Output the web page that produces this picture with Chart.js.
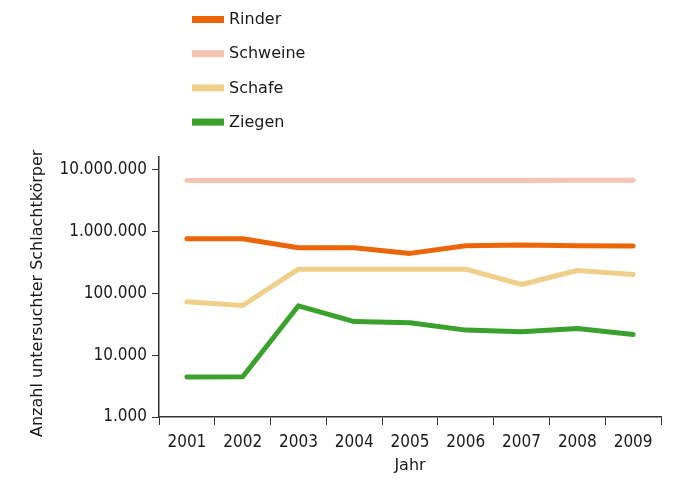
<!DOCTYPE html>
<html>
<head>
<meta charset="utf-8">
<script src="https://cdn.jsdelivr.net/npm/chart.js@4/dist/chart.umd.min.js"></script>
<style>
  html, body { margin: 0; padding: 0; background: #fff; }
  #wrap { width: 683px; height: 479px; }
</style>
</head>
<body>
<div id="wrap"><canvas id="chart" width="683" height="479"></canvas></div>
<script>
// Data
const years = ['2001', '2002', '2003', '2004', '2005', '2006', '2007', '2008', '2009'];
const seriesNames = ['Rinder', 'Schweine', 'Schafe', 'Ziegen'];
const rinder   = [764000, 764000, 546000, 546000, 442000, 587000, 602000, 587000, 581000];
const schweine = [6700000, 6700000, 6700000, 6700000, 6700000, 6700000, 6700000, 6750000, 6750000];
const schafe   = [72800, 63500, 246000, 246000, 246000, 246000, 139000, 234000, 202000];
const ziegen   = [4450, 4480, 62800, 34900, 33300, 25400, 23800, 26900, 21500];
const yTicks = [1000, 10000, 100000, 1000000, 10000000];
const yTitle = 'Anzahl untersuchter Schlachtkörper';

const colors = ['#ec6608', '#f6c4b2', '#eed08a', '#3aa12c'];
const TEXT_FONT = '"DejaVu Sans", Verdana, sans-serif';
const NUM_FONT = '"DejaVu Sans Condensed", "DejaVu Sans", sans-serif';

function fmtDe(v) {
    return String(v).replace(/\B(?=(\d{3})+(?!\d))/g, '.');
}

// Legend as a vertical list above the plot, plus the y axis title
const extrasPlugin = {
    id: 'extras',
    afterDraw(chart) {
        const ctx = chart.ctx;
        ctx.save();
        ctx.font = '16px ' + TEXT_FONT;
        ctx.textBaseline = 'middle';
        chart.data.datasets.forEach((ds, i) => {
            const y = 19.5 + i * 34.2;
            ctx.fillStyle = ds.borderColor;
            ctx.fillRect(192, y - 3.5, 32, 7);
            ctx.fillStyle = '#1a1a1a';
            ctx.fillText(ds.label, 229, y + 0.5);
        });
        // y title centred on the labelled range of the axis
        const ys = chart.scales.y;
        const mid = (ys.getPixelForValue(yTicks[0]) + ys.getPixelForValue(yTicks[yTicks.length - 1])) / 2;
        ctx.translate(38, mid);
        ctx.rotate(-Math.PI / 2);
        ctx.textAlign = 'center';
        ctx.fillText(yTitle, 0, 0);
        ctx.restore();
    }
};

const mk = (i, data) => ({
    label: seriesNames[i],
    data: data,
    borderColor: colors[i],
    backgroundColor: colors[i],
    borderWidth: 5,
    pointRadius: 0,
    tension: 0,
    borderCapStyle: 'round',
    borderJoinStyle: 'round',
    fill: false
});

new Chart(document.getElementById('chart'), {
    type: 'line',
    data: {
        labels: years,
        datasets: [mk(0, rinder), mk(1, schweine), mk(2, schafe), mk(3, ziegen)]
    },
    options: {
        responsive: false,
        animation: false,
        layout: { padding: { top: 157, right: 22, left: 50, bottom: 0 } },
        plugins: {
            legend: { display: false },
            tooltip: { enabled: false }
        },
        scales: {
            x: {
                offset: true,
                grid: { offset: true, drawOnChartArea: false, color: '#333', tickLength: 8, tickColor: '#333' },
                border: { color: '#333', width: 1.5 },
                ticks: { color: '#1a1a1a', font: { family: NUM_FONT, size: 17 }, padding: 7, maxRotation: 0 },
                title: { display: true, text: 'Jahr', color: '#1a1a1a', font: { family: TEXT_FONT, size: 16 }, padding: { top: 0 } },
                afterFit(s) { s.height = 62; }
            },
            y: {
                type: 'logarithmic',
                min: 1000,
                max: 16000000,
                grid: { drawOnChartArea: false, color: '#333', tickLength: 7, tickColor: '#333' },
                border: { color: '#333', width: 1.5 },
                afterBuildTicks(s) { s.ticks = yTicks.map(v => ({ value: v })); },
                ticks: {
                    autoSkip: false,
                    color: '#1a1a1a',
                    font: { family: NUM_FONT, size: 17 },
                    padding: 5,
                    callback: v => fmtDe(v)
                },
                afterFit(s) { s.width = 159 - 50; }
            }
        }
    },
    plugins: [extrasPlugin]
});
</script>
</body>
</html>
